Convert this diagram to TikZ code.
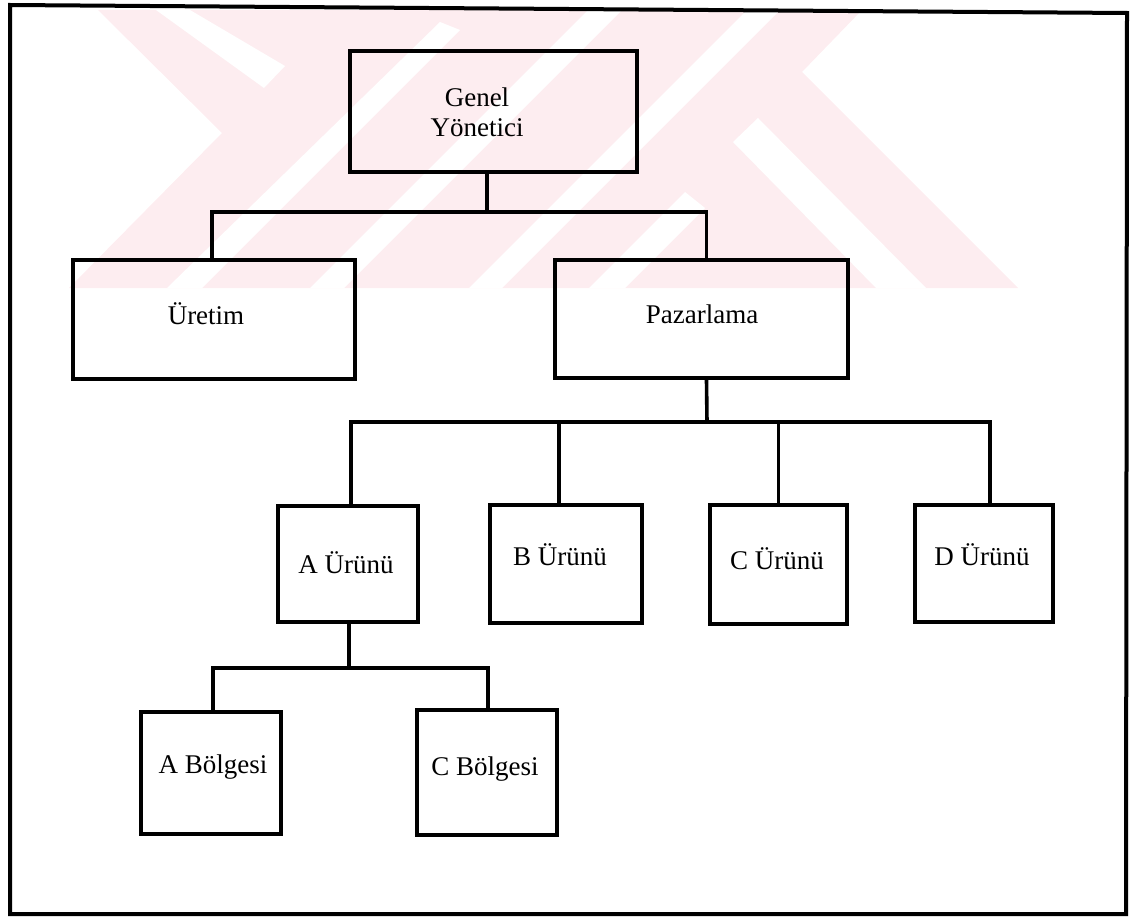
\documentclass[tikz,border=0pt]{standalone}
\usepackage{fontspec}
\setmainfont{Liberation Serif}
\definecolor{wm}{RGB}{253,237,240}
\begin{document}
\begin{tikzpicture}[x=0.5pt,y=-0.5pt,
  box/.style={draw=black, line width=2pt, inner sep=0pt},
  txt/.style={inner sep=0pt, align=center, font=\fontsize{13.5}{15}\selectfont},
  conn/.style={draw=black, line width=1.8pt}]
\useasboundingbox (0,0) rectangle (1131,920);
% watermark
\fill[wm] (98,10) -- (222,133) -- (69,288) -- (1018,288) -- (802,72) -- (862,10) -- cycle;
\fill[white] (156,10) -- (190,10) -- (285,66) -- (264,88) -- cycle;
\fill[white] (167,288) -- (202,288) -- (460,30) -- (440,22) -- cycle;
\fill[white] (310,288) -- (344,288) -- (622,10) -- (588,10) -- cycle;
\fill[white] (469,288) -- (502,288) -- (780,10) -- (747,10) -- cycle;
\fill[white] (589,288) -- (625,288) -- (705,208) -- (685,192) -- cycle;
\fill[white] (733,142) -- (758,118) -- (926,288) -- (876,288) -- cycle;
% frame
\draw[line width=2pt] (10,5) -- (1127,13) -- (1126,914) -- (10,914) -- cycle;
% boxes
\node[box, minimum width=143.5pt, minimum height=60.5pt] (gy) at (493.5,111.5) {};
\node[box, minimum width=141pt, minimum height=59.5pt] (ur) at (214,319.5) {};
\node[box, minimum width=146.5pt, minimum height=59pt] (pz) at (701.5,319) {};
\node[box, minimum width=70pt, minimum height=58pt] (au) at (348,564) {};
\node[box, minimum width=76pt, minimum height=59pt] (bu) at (566,564) {};
\node[box, minimum width=68.5pt, minimum height=59.5pt] (cu) at (778.5,564.5) {};
\node[box, minimum width=69pt, minimum height=58.5pt] (du) at (984,563.5) {};
\node[box, minimum width=70pt, minimum height=61pt] (ab) at (211,773) {};
\node[box, minimum width=70pt, minimum height=62.5pt] (cb) at (487,772.5) {};
% texts
\node[txt] (gyt) at (477,112) {Genel\\Yönetici};
\node[txt] (urt) at (206,314) {Üretim};
\node[txt] (pzt) at (702,314) {Pazarlama};
\node[txt] (aut) at (346,563) {A Ürünü};
\node[txt] (but) at (560,555) {B Ürünü};
\node[txt] (cut) at (777,559) {C Ürünü};
\node[txt] (dut) at (982,555) {D Ürünü};
\node[txt] (abt) at (213,767) {A Bölgesi};
\node[txt] (cbt) at (485,769) {C Bölgesi};
% junctions
\coordinate (j1) at (487,212);
\coordinate (j2) at (707,422);
\coordinate (j3) at (349,668);
% connectors
\draw[conn] (gy.south -| j1) -- (j1);
\draw[conn] ([xshift=-1pt]ur.north) |- (j1) -| ([xshift=2.5pt]pz.north);
\draw[conn] ([xshift=2.5pt]pz.south) -- (j2);
\draw[conn] ([xshift=1.5pt]au.north) |- (j2) -| ([xshift=3pt]du.north);
\draw[conn] ([xshift=-3.5pt]bu.north) -- ([xshift=-3.5pt]bu.north |- j2);
\draw[conn] (cu.north) -- (cu.north |- j2);
\draw[conn] ([xshift=0.5pt]au.south) -- (j3);
\draw[conn] ([xshift=1pt]ab.north) |- (j3) -| ([xshift=0.5pt]cb.north);
\end{tikzpicture}
\end{document}
